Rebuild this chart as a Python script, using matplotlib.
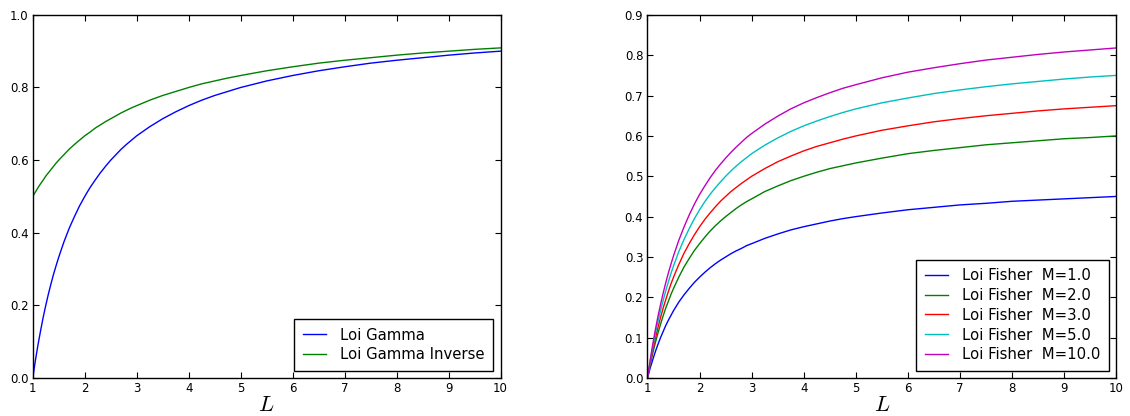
import matplotlib
matplotlib.use("Agg")
import matplotlib.pyplot as plt

# valeurs, pour L de 1 a 10
L = [1.00, 1.05, 1.10, 1.15, 1.20, 1.25, 1.30, 1.35, 1.40, 1.45, 1.50,
     1.6, 1.7, 1.8, 1.9, 2.0, 2.1, 2.2, 2.3, 2.4, 2.5, 2.6, 2.7, 2.8, 2.9, 3.0,
     3.25, 3.5, 3.75, 4.0, 4.25, 4.5, 4.75, 5.0,
     5.5, 6.0, 6.5, 7.0, 7.5, 8.0, 8.5, 9.0, 9.5, 10.0]

gamma = [0.0, 0.048, 0.091, 0.130, 0.167, 0.2, 0.231, 0.259, 0.286, 0.310, 0.333,
         0.375, 0.412, 0.444, 0.474, 0.5, 0.524, 0.545, 0.565, 0.583, 0.6,
         0.615, 0.630, 0.643, 0.655, 0.667,
         0.692, 0.714, 0.733, 0.75, 0.765, 0.778, 0.789, 0.8,
         0.818, 0.833, 0.846, 0.857, 0.867, 0.875, 0.882, 0.889, 0.895, 0.9]

gamma_inv = [0.5, 0.512, 0.524, 0.535, 0.545, 0.556, 0.565, 0.574, 0.583, 0.592, 0.6,
             0.615, 0.630, 0.643, 0.655, 0.667, 0.677, 0.688, 0.697, 0.706, 0.714,
             0.722, 0.730, 0.737, 0.744, 0.75,
             0.765, 0.778, 0.789, 0.8, 0.810, 0.818, 0.826, 0.833,
             0.846, 0.857, 0.867, 0.875, 0.882, 0.889, 0.895, 0.9, 0.905, 0.909]

M_values = [1.0, 2.0, 3.0, 5.0, 10.0]
fisher_m1 = [0.0, 0.024, 0.045, 0.065, 0.083, 0.1, 0.115, 0.130, 0.143, 0.155, 0.167,
             0.188, 0.206, 0.222, 0.237, 0.25, 0.262, 0.273, 0.283, 0.292, 0.3,
             0.308, 0.315, 0.321, 0.328, 0.333,
             0.346, 0.357, 0.367, 0.375, 0.382, 0.389, 0.395, 0.4,
             0.409, 0.417, 0.423, 0.429, 0.433, 0.438, 0.441, 0.444, 0.447, 0.45]
fisher_m2 = [0.0, 0.032, 0.061, 0.087, 0.111, 0.133, 0.154, 0.173, 0.190, 0.207, 0.222,
             0.25, 0.275, 0.296, 0.316, 0.333, 0.349, 0.364, 0.377, 0.389, 0.4,
             0.410, 0.420, 0.429, 0.437, 0.444,
             0.462, 0.476, 0.489, 0.5, 0.510, 0.519, 0.526, 0.533,
             0.545, 0.556, 0.564, 0.571, 0.578, 0.583, 0.588, 0.593, 0.596, 0.6]
fisher_m3 = [0.0, 0.036, 0.068, 0.098, 0.125, 0.15, 0.173, 0.194, 0.214, 0.233, 0.25,
             0.281, 0.309, 0.333, 0.355, 0.375, 0.393, 0.409, 0.424, 0.438, 0.45,
             0.462, 0.472, 0.482, 0.491, 0.5,
             0.519, 0.536, 0.55, 0.563, 0.574, 0.583, 0.592, 0.6,
             0.614, 0.625, 0.635, 0.643, 0.65, 0.656, 0.662, 0.667, 0.671, 0.675]
fisher_m5 = [0.0, 0.040, 0.076, 0.109, 0.139, 0.167, 0.192, 0.216, 0.238, 0.259, 0.278,
             0.313, 0.343, 0.370, 0.395, 0.417, 0.437, 0.455, 0.471, 0.486, 0.5,
             0.513, 0.525, 0.536, 0.546, 0.556,
             0.577, 0.595, 0.611, 0.625, 0.637, 0.648, 0.658, 0.667,
             0.682, 0.694, 0.705, 0.714, 0.722, 0.729, 0.735, 0.741, 0.746, 0.75]
fisher_m10 = [0.0, 0.043, 0.083, 0.119, 0.152, 0.182, 0.210, 0.236, 0.260, 0.282, 0.303,
              0.341, 0.374, 0.404, 0.431, 0.455, 0.476, 0.496, 0.514, 0.530, 0.545,
              0.559, 0.572, 0.584, 0.596, 0.606,
              0.629, 0.649, 0.667, 0.682, 0.695, 0.707, 0.718, 0.727,
              0.744, 0.758, 0.769, 0.779, 0.788, 0.795, 0.802, 0.808, 0.813, 0.818]
fisher = [fisher_m1, fisher_m2, fisher_m3, fisher_m5, fisher_m10]
fisher_colors = ['b', 'g', 'r', 'c', 'm']

plt.rcParams['font.family'] = 'DejaVu Sans'
plt.rcParams['mathtext.fontset'] = 'cm'

fig = plt.figure(figsize=(11.3, 4.16), dpi=100)
ax1 = fig.add_axes([0.029, 0.0913, 0.414, 0.873])
ax2 = fig.add_axes([0.573, 0.0913, 0.415, 0.873])


def style(ax):
    ax.tick_params(direction='in', top=True, right=True, length=4, width=0.8,
                   labelsize=8.5, pad=3)
    for s in ax.spines.values():
        s.set_linewidth(1.0)
    ax.set_xlabel('$L$', fontsize=16, labelpad=0)


def add_legend(ax):
    leg = ax.legend(loc='lower right', fontsize=10.7, fancybox=False, framealpha=1,
                    edgecolor='black', borderaxespad=0.5, borderpad=0.55,
                    handlelength=1.55, handletextpad=1.0, labelspacing=0.33)
    leg.get_frame().set_linewidth(1.0)


ax1.plot(L, gamma, color='b', lw=1, label='Loi Gamma')
ax1.plot(L, gamma_inv, color='g', lw=1, label='Loi Gamma Inverse')
ax1.set_xlim(1, 10)
ax1.set_ylim(0, 1.0)
ax1.set_xticks(range(1, 11))
ax1.set_yticks([0.0, 0.2, 0.4, 0.6, 0.8, 1.0])
style(ax1)
add_legend(ax1)

for m, vals, c in zip(M_values, fisher, fisher_colors):
    ax2.plot(L, vals, color=c, lw=1, label='Loi Fisher  M=%.1f' % m)
ax2.set_xlim(1, 10)
ax2.set_ylim(0, 0.9)
ax2.set_xticks(range(1, 11))
ax2.set_yticks([i / 10 for i in range(10)])
style(ax2)
add_legend(ax2)

fig.savefig('out.png', dpi=100)
